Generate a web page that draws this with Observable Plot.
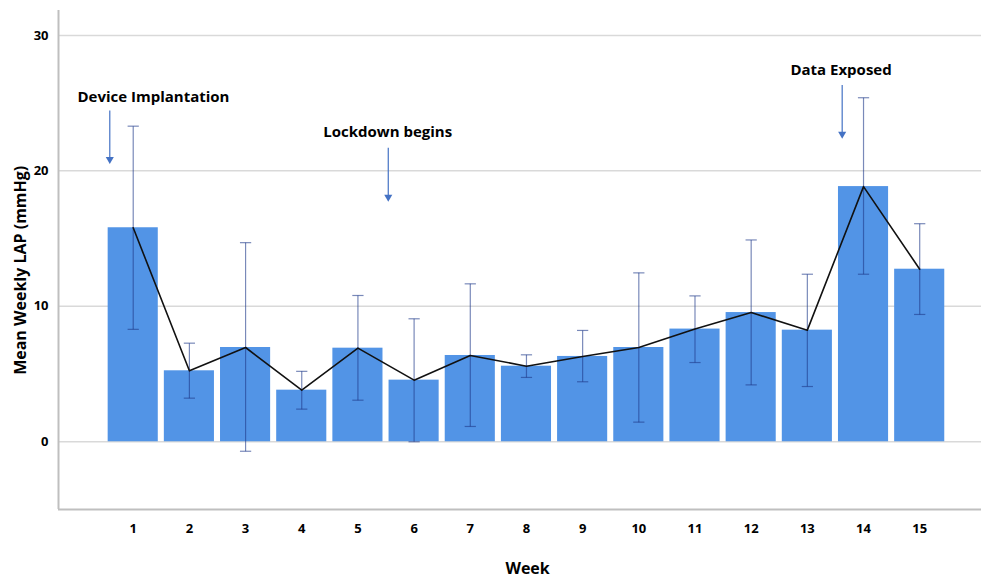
<!DOCTYPE html>
<html>
<head>
<meta charset="utf-8">
<script src="https://cdn.jsdelivr.net/npm/d3@7"></script>
<script src="https://cdn.jsdelivr.net/npm/@observablehq/plot@0.6"></script>
<style>
  html, body { margin: 0; padding: 0; background: #fff; }
  #chart svg { display: block; }
</style>
</head>
<body>
<div id="chart"></div>
<script>
// ---- data ----
const weeks    = [1, 2, 3, 4, 5, 6, 7, 8, 9, 10, 11, 12, 13, 14, 15];
const means    = [15.8, 5.24, 6.96, 3.81, 6.91, 4.55, 6.37, 5.58, 6.3, 6.96, 8.32, 9.54, 8.24, 18.84, 12.74];
const errLow   = [8.3, 3.22, -0.7, 2.41, 3.07, 0.0, 1.13, 4.75, 4.43, 1.45, 5.85, 4.2, 4.08, 12.37, 9.4];
const errHigh  = [23.3, 7.28, 14.7, 5.2, 10.8, 9.08, 11.66, 6.42, 8.22, 12.47, 10.77, 14.9, 12.37, 25.4, 16.1];
const yTicks   = [0, 10, 20, 30];
const xDomain  = [-0.33, 16.1];
const yDomain  = [-5, 31.84];

const annLabels = ["Device Implantation", "Lockdown begins", "Data Exposed"];
const annTextX  = [1.36, 5.53, 13.6];
const annTextY  = [25.44, 22.82, 27.41];
const annArrowX = [0.583, 5.54, 13.62];
const annArrowY1 = [24.46, 21.71, 26.34];
const annArrowY2 = [20.7, 17.92, 22.57];

const xLabel = "Week";
const yLabel = "Mean Weekly LAP (mmHg)";

// ---- tables ----
const rows = weeks.map((w, i) => ({week: w, mean: means[i], lo: errLow[i], hi: errHigh[i]}));
const ann = annLabels.map((t, i) => ({
  label: t, tx: annTextX[i], ty: annTextY[i],
  ax: annArrowX[i], ay1: annArrowY1[i], ay2: annArrowY2[i]
}));

const barHalf = 0.446;
const capHalf = 0.1;
const barColor = "#5294E6";
const errColor = "#1F3A8A";
const annColor = "#4472C4";

const chart = Plot.plot({
  width: 981,
  height: 584,
  marginLeft: 58,
  marginRight: 0,
  marginTop: 10,
  marginBottom: 75,
  style: {fontFamily: "'Open Sans', sans-serif", background: "#fff", color: "#000"},
  x: {type: "linear", domain: xDomain},
  y: {domain: yDomain},
  marks: [
    Plot.gridY(yTicks, {stroke: "#D9D9D9", strokeOpacity: 1, strokeWidth: 1.5}),
    Plot.ruleX([xDomain[0]], {stroke: "#BFBFBF", strokeWidth: 2}),
    Plot.ruleY([yDomain[0]], {stroke: "#BFBFBF", strokeWidth: 2}),
    Plot.rectY(rows, {
      x1: d => d.week - barHalf, x2: d => d.week + barHalf,
      y1: 0, y2: "mean", fill: barColor
    }),
    Plot.link(rows, {x1: "week", x2: "week", y1: "lo", y2: "hi", stroke: errColor, strokeOpacity: 0.6, strokeWidth: 1.2}),
    Plot.link(rows, {x1: d => d.week - capHalf, x2: d => d.week + capHalf, y1: "hi", y2: "hi", stroke: errColor, strokeOpacity: 0.6, strokeWidth: 1.2}),
    Plot.link(rows, {x1: d => d.week - capHalf, x2: d => d.week + capHalf, y1: "lo", y2: "lo", stroke: errColor, strokeOpacity: 0.6, strokeWidth: 1.2}),
    Plot.line(rows, {x: "week", y: "mean", stroke: "#111", strokeWidth: 1.6}),
    Plot.axisY({ticks: yTicks, tickSize: 0, tickPadding: 10, fontSize: 13, fontWeight: "bold", label: null}),
    Plot.axisX({ticks: weeks, tickSize: 0, tickPadding: 14, fontSize: 13, fontWeight: "bold", label: null, tickFormat: d => String(d)}),
    Plot.text([yLabel], {frameAnchor: "left", y: [12.66], dx: -38, rotate: -90, textAnchor: "middle", fontSize: 16, fontWeight: "bold", fill: "#000"}),
    Plot.text([xLabel], {x: [8.02], frameAnchor: "bottom", dy: 64, fontSize: 16, fontWeight: "bold", fill: "#000"}),
    Plot.link(ann, {x1: "ax", x2: "ax", y1: "ay1", y2: "ay2", stroke: annColor, strokeWidth: 1.2}),
    Plot.dot(ann, {x: "ax", y: "ay2", symbol: "triangle", rotate: 180, r: 3, fill: annColor, stroke: null, dy: -2}),
    Plot.text(ann, {x: "tx", y: "ty", text: "label", textAnchor: "middle", fontSize: 15, fontWeight: "bold", fill: "#000"})
  ]
});
document.getElementById("chart").appendChild(chart);
</script>
</body>
</html>
